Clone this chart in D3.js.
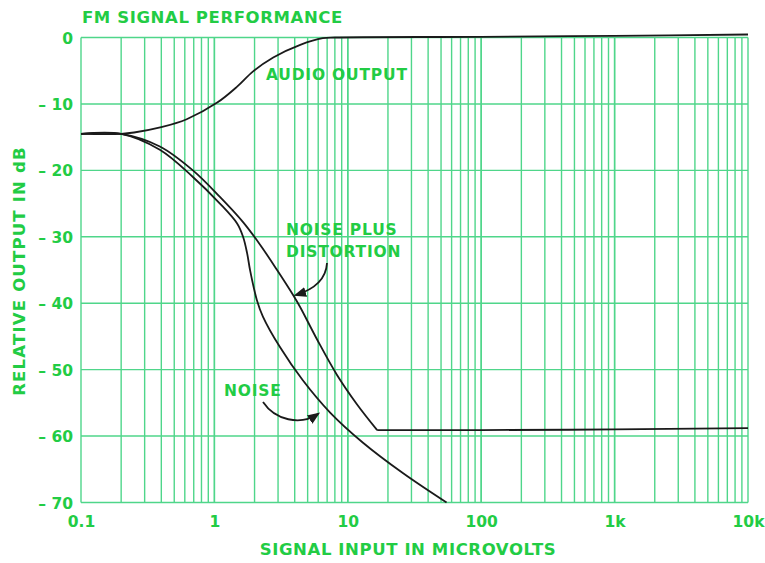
<!DOCTYPE html>
<html><head><meta charset="utf-8">
<script src="https://cdn.jsdelivr.net/npm/d3@7"></script>
<style>body{margin:0;background:#fff}svg{display:block}</style>
</head><body>
<svg id="c" width="765" height="563"></svg>
<script>
const title = "FM SIGNAL PERFORMANCE";
const xLabel = "SIGNAL INPUT IN MICROVOLTS";
const yLabel = "RELATIVE OUTPUT IN dB";
const xTickValues = [0.1, 1, 10, 100, 1000, 10000];
const xTickLabels = ["0.1", "1", "10", "100", "1k", "10k"];
const yTickValues = [0, -10, -20, -30, -40, -50, -60, -70];
const yTickLabels = ["0", "\u2013 10", "\u2013 20", "\u2013 30", "\u2013 40", "\u2013 50", "\u2013 60", "\u2013 70"];

const audioX = [0.1, 0.2, 0.25, 0.4, 0.62, 1.05, 1.48, 1.95, 2.76, 4.4, 6.5, 8, 100, 1000, 10000];
const audioY = [-14.5, -14.5, -14.3, -13.5, -12.3, -9.8, -7.4, -5.1, -3.0, -1.1, -0.1, 0, 0.1, 0.25, 0.45];

const ndX = [0.1, 0.2, 0.39, 0.69, 1.1, 1.64, 2.2, 2.95, 3.9, 4.4, 5.9, 8.3, 11.7, 16.6];
const ndY = [-14.5, -14.5, -16.4, -20, -24, -27.8, -31.2, -35, -38.8, -40.6, -45.5, -50.8, -55.2, -59.1];
const ndFlatX = [16.6, 100, 1000, 10000];
const ndFlatY = [-59.1, -59.1, -59.0, -58.8];

const noiseX = [0.1, 0.2, 0.39, 0.69, 1.1, 1.48, 1.64, 1.76, 1.85, 2.08, 2.31, 3.1, 4.6, 7.4, 13, 26, 55];
const noiseY = [-14.5, -14.5, -16.9, -21, -25, -28, -30, -32.5, -35, -39.5, -42, -46.6, -51.6, -56.5, -61, -65.6, -70];

const green = "#22cc44";
const grid = "#4fd68a";
const font = "'DejaVu Sans', Verdana, sans-serif";

const svg = d3.select("#c");
const L = 81, R = 748, T = 37.5, B = 502.5;
const x = d3.scaleLog().domain([0.1, 10000]).range([L, R]);
const y = d3.scaleLinear().domain([-70, 0]).range([B, T]);

// grid
const minor = [];
for (let e = -1; e < 4; e++) for (let k = 1; k <= 10; k++) minor.push(k * Math.pow(10, e));
const gg = svg.append("g");
gg.selectAll("line.v").data(minor).join("line")
  .attr("x1", d => x(d)).attr("x2", d => x(d)).attr("y1", T).attr("y2", B)
  .attr("stroke", grid).attr("stroke-width", 1.4);
gg.selectAll("line.h").data(yTickValues).join("line")
  .attr("x1", L).attr("x2", R).attr("y1", d => y(d)).attr("y2", d => y(d))
  .attr("stroke", grid).attr("stroke-width", 1.4);

// axes (text only)
const xAxis = d3.axisBottom(x).tickValues(xTickValues).tickFormat((d, i) => xTickLabels[i]).tickSize(0).tickPadding(13);
const xg = svg.append("g").attr("transform", `translate(0,${B})`).call(xAxis);
const yAxis = d3.axisLeft(y).tickValues(yTickValues).tickFormat((d, i) => yTickLabels[i]).tickSize(0).tickPadding(8);
const yg = svg.append("g").attr("transform", `translate(${L},0)`).call(yAxis);
[xg, yg].forEach(g => {
  g.select(".domain").remove();
  g.selectAll("text").attr("fill", green).attr("font-family", font).attr("font-weight", "bold").attr("font-size", 15.5);
});
yg.selectAll("text").attr("dy", "0.36em");

// curves
const line = d3.line().x(d => x(d[0])).y(d => y(d[1])).curve(d3.curveCatmullRom.alpha(0.5));
const series = [
  d3.zip(audioX, audioY),
  d3.zip(ndX, ndY),
  d3.zip(ndFlatX, ndFlatY),
  d3.zip(noiseX, noiseY)
];
svg.append("g").selectAll("path").data(series).join("path")
  .attr("d", line).attr("fill", "none").attr("stroke", "#1a1a1a").attr("stroke-width", 1.8);

// labels
const txt = (s, px, py, opts = {}) => svg.append("text").text(s).attr("x", px).attr("y", py)
  .attr("fill", green).attr("font-family", font).attr("font-weight", "bold").attr("font-size", opts.size || 15.5)
  .attr("letter-spacing", opts.ls == null ? 0.8 : opts.ls)
  .attr("text-anchor", opts.anchor || "start");
txt(title, L + 1, 23, {size: 16.5, ls: 0.6});
txt(xLabel, 408, 555, {anchor: "middle", size: 16.5, ls: 0.6});
svg.append("text").text(yLabel).attr("transform", "translate(25,271) rotate(-90)")
  .attr("text-anchor", "middle").attr("fill", green).attr("font-family", font)
  .attr("font-weight", "bold").attr("font-size", 16.5).attr("letter-spacing", 1.2);
txt("AUDIO OUTPUT", 266, 80);
txt("NOISE PLUS", 286, 235);
txt("DISTORTION", 286, 257);
txt("NOISE", 224, 396);

// arrows
const defs = svg.append("defs");
defs.append("marker").attr("id", "ah").attr("viewBox", "0 0 10 10").attr("refX", 8).attr("refY", 5)
  .attr("markerWidth", 7).attr("markerHeight", 7).attr("orient", "auto")
  .append("path").attr("d", "M0,1 L10,5 L0,9 Z").attr("fill", "#1a1a1a");
svg.append("path").attr("d", "M327,263 C326,280 312,290 296,295")
  .attr("fill", "none").attr("stroke", "#1a1a1a").attr("stroke-width", 1.8).attr("marker-end", "url(#ah)");
svg.append("path").attr("d", "M263,402 C275,420 300,426 318,414")
  .attr("fill", "none").attr("stroke", "#1a1a1a").attr("stroke-width", 1.8).attr("marker-end", "url(#ah)");
</script>
</body></html>
